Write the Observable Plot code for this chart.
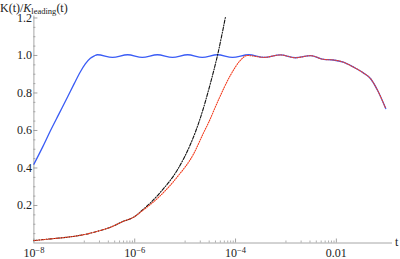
<!DOCTYPE html>
<html>
<head>
<meta charset="utf-8">
<script src="https://cdn.jsdelivr.net/npm/d3@7"></script>
<script src="https://cdn.jsdelivr.net/npm/@observablehq/plot@0.6"></script>
<style>
  html, body { margin: 0; padding: 0; background: #fff; }
  #chart svg { display: block; }
  #chart svg text { font-family: "Liberation Serif", "DejaVu Serif", serif; }
</style>
</head>
<body>
<div id="chart"></div>
<script>
// ---- data ----
// exponent of t (log10 t) and K(t)/K_leading(t)
const blueLog10t = [-8.0, -7.83, -7.67, -7.5, -7.33, -7.2, -7.08, -6.98, -6.88, -6.80, -6.74, -6.44, -6.14, -5.85, -5.55, -5.25, -4.95, -4.66, -4.36, -4.06, -3.74, -3.43, -3.11, -2.81, -2.51, -2.25, -2.06, -1.86, -1.66, -1.46, -1.32, -1.18, -1.02];
const blueK      = [0.42, 0.51, 0.60, 0.69, 0.78, 0.85, 0.912, 0.955, 0.985, 0.998, 1.004, 0.99, 1.004, 0.99, 1.004, 0.99, 1.004, 0.99, 1.004, 0.99, 1.004, 0.99, 1.003, 0.988, 0.999, 0.979, 0.976, 0.964, 0.938, 0.906, 0.876, 0.813, 0.717];

const redLog10t = [-8.0, -7.67, -7.34, -7.0, -6.68, -6.48, -6.25, -6.02, -5.82, -5.69, -5.49, -5.16, -4.83, -4.63, -4.53, -4.36, -4.10, -3.90, -3.77, -3.43, -3.11, -2.81, -2.51, -2.25, -2.06, -1.86, -1.66, -1.46, -1.32, -1.18, -1.02];
const redK      = [0.013, 0.022, 0.031, 0.045, 0.067, 0.084, 0.113, 0.138, 0.178, 0.205, 0.253, 0.351, 0.476, 0.59, 0.645, 0.75, 0.895, 0.975, 1.0, 0.99, 1.003, 0.988, 0.999, 0.979, 0.976, 0.964, 0.938, 0.906, 0.876, 0.813, 0.717];

const blackLog10t = [-8.0, -7.67, -7.34, -7.0, -6.68, -6.48, -6.25, -6.02, -5.82, -5.69, -5.49, -5.16, -4.89, -4.79, -4.72, -4.50, -4.35, -4.20];
const blackK      = [0.013, 0.022, 0.031, 0.045, 0.067, 0.084, 0.113, 0.138, 0.182, 0.213, 0.271, 0.387, 0.529, 0.596, 0.649, 0.85, 1.01, 1.205];

const xMajorTicks = [1e-8, 1e-6, 1e-4, 1e-2];
const xMajorLabels = ["10^−8", "10^−6", "10^−4", "0.01"];
const xMinorDecades = [1e-7, 1e-5, 1e-3];
const yMajorTicks = [0.2, 0.4, 0.6, 0.8, 1.0, 1.2];
const yMajorLabels = ["0.2", "0.4", "0.6", "0.8", "1.0", "1.2"];
const yMinorTicks = [0.05, 0.1, 0.15, 0.25, 0.3, 0.35, 0.45, 0.5, 0.55, 0.65, 0.7, 0.75, 0.85, 0.9, 0.95, 1.05, 1.1, 1.15];

// ---- build tables ----
const toRows = (lt, k) => lt.map((e, i) => ({t: Math.pow(10, e), k: k[i]}));
const blue = toRows(blueLog10t, blueK);
const red = toRows(redLog10t, redK);
const black = toRows(blackLog10t, blackK);
const xMinorTicks = xMinorDecades.flatMap(d => d3.range(1, 10).map(m => m * d));

const W = 400, H = 259;
const mL = 33.4, mR = 8, mT = 15.6, mB = 16.5;
const xDomain = [1e-8, 0.13];
const yDomain = [0, 1.21];
const pxPerY = (H - mT - mB) / (yDomain[1] - yDomain[0]);
const pxPerDec = (W - mL - mR) / Math.log10(xDomain[1] / xDomain[0]);
const yTick = px => px / pxPerY;               // tick length in y data units
const xTick = px => xDomain[0] * Math.pow(10, px / pxPerDec);

const axisColor = "#a6a6a6";
const tickColor = "#8c8c8c";
const font = "Liberation Serif";

const chart = Plot.plot({
  width: W, height: H,
  marginLeft: mL, marginRight: mR, marginTop: mT, marginBottom: mB,
  x: {type: "log", domain: xDomain, axis: null},
  y: {domain: yDomain, axis: null},
  style: "font-family: 'Liberation Serif', serif; background: #fff; overflow: visible;",
  marks: [
    // axes lines
    Plot.ruleY([0], {stroke: axisColor, strokeWidth: 1}),
    Plot.ruleX([xDomain[0]], {stroke: axisColor, strokeWidth: 1}),
    // x ticks
    Plot.ruleX(xMajorTicks, {x: d => d, y1: 0, y2: yTick(4), stroke: tickColor, strokeWidth: 0.8}),
    Plot.ruleX(xMinorTicks, {x: d => d, y1: 0, y2: yTick(2), stroke: tickColor, strokeWidth: 0.7}),
    // y ticks
    Plot.ruleY(yMajorTicks, {y: d => d, x1: xDomain[0], x2: xTick(4), stroke: tickColor, strokeWidth: 0.8}),
    Plot.ruleY(yMinorTicks, {y: d => d, x1: xDomain[0], x2: xTick(2), stroke: tickColor, strokeWidth: 0.7}),
    // tick labels
    Plot.text(xMajorTicks, {x: d => d, y: 0, text: (d, i) => xMajorLabels[i], dy: 10, fontSize: 12, fontFamily: font, fill: "#222", textAnchor: "middle"}),
    Plot.text(yMajorTicks, {y: d => d, x: xDomain[0], text: (d, i) => yMajorLabels[i], dx: -2, fontSize: 12, fontFamily: font, fill: "#222", textAnchor: "end"}),
    // curves
    Plot.line(blue, {x: "t", y: "k", stroke: "#3a5cf5", strokeWidth: 1.3, curve: "monotone-x"}),
    Plot.line(black, {x: "t", y: "k", stroke: "#111", strokeWidth: 1.1, strokeDasharray: "3.5,1.5,1,1.5", curve: "monotone-x"}),
    Plot.line(red, {x: "t", y: "k", stroke: "#f23d1f", strokeWidth: 1.1, strokeDasharray: "1,1.4", curve: "monotone-x"})
  ]
});

// superscripts in tick labels
d3.select(chart).selectAll("text").each(function() {
  const s = this.textContent;
  if (s.includes("^")) {
    const [base, exp] = s.split("^");
    const sel = d3.select(this);
    sel.text(null);
    sel.append("tspan").text(base);
    sel.append("tspan").attr("dy", "-0.45em").attr("font-size", "8.5px").text(exp);
  }
});

// axis labels
const svg = d3.select(chart);
const title = svg.append("text")
  .attr("x", 0).attr("y", 11.5).attr("text-anchor", "start")
  .attr("font-family", font).attr("font-size", 12).attr("fill", "#222");
title.append("tspan").text("K(t)/");
title.append("tspan").attr("font-style", "italic").text("K");
title.append("tspan").attr("font-size", "8.5px").attr("dy", 2.5).text("leading");
title.append("tspan").attr("dy", -2.5).text("(t)");

svg.append("text")
  .attr("x", 395).attr("y", 242.5).attr("dy", "0.32em").attr("text-anchor", "start")
  .attr("font-family", font).attr("font-size", 12).attr("fill", "#222")
  .text("t");

document.getElementById("chart").appendChild(chart);
</script>
</body>
</html>
